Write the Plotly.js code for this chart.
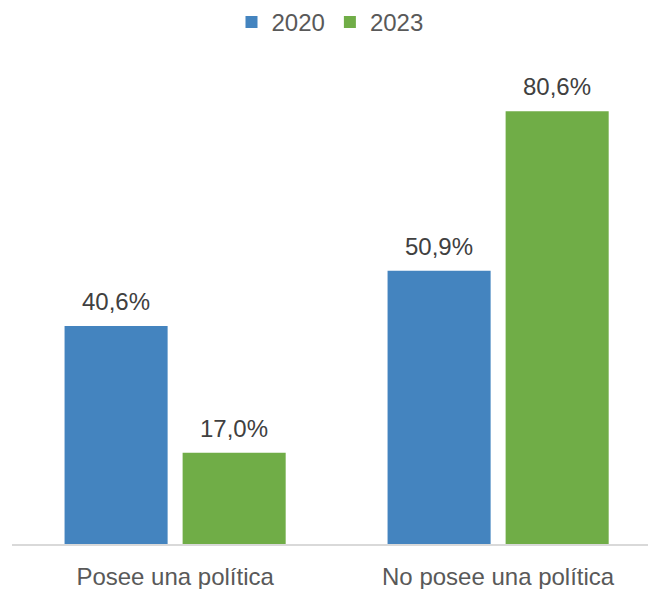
<!DOCTYPE html>
<html>
<head>
<meta charset="utf-8">
<script src="https://cdn.plot.ly/plotly-3.0.1.min.js"></script>
<style>html,body{margin:0;padding:0;background:#fff;}#chart{width:648px;height:589px;}</style>
</head>
<body>
<div id="chart"></div>
<script>
const categories = ["Posee una política", "No posee una política"];
const seriesNames = ["2020", "2023"];
const values2020 = [40.6, 50.9];
const values2023 = [17.0, 80.6];
const colors = ["#4484BF", "#70AD47"];

function fmt(v){ return v.toFixed(1).replace('.', ',') + '%'; }

const traces = [
  {type:'bar', name: seriesNames[0], x: categories, y: values2020, marker:{color: colors[0]}, hoverinfo:'none'},
  {type:'bar', name: seriesNames[1], x: categories, y: values2023, marker:{color: colors[1]}, hoverinfo:'none'}
];

const annotations = [];
[values2020, values2023].forEach((vals, s) => {
  vals.forEach((v, i) => {
    annotations.push({
      x: i + (s === 0 ? -0.182 : 0.182), y: v, xref:'x', yref:'y',
      text: fmt(v), showarrow:false, yanchor:'bottom', yshift: 9,
      font:{family:'Liberation Sans, Arial, sans-serif', size:24, color:'#404040'}
    });
  });
});

const layout = {
  width: 648, height: 589,
  margin: {l: 12, r: 0, t: 50, b: 45},
  paper_bgcolor: '#fff', plot_bgcolor: '#fff',
  font: {family: 'Liberation Sans, Arial, sans-serif', color: '#595959', size: 24},
  barmode: 'group', bargap: 0.269, bargroupgap: 0.127,
  showlegend: true,
  legend: {orientation:'h', x:0.5, xanchor:'center', y:1.0, yref:'container', yanchor:'top',
           font:{size:24, color:'#595959'}, itemwidth:30, traceorder:'normal'},
  xaxis: {type:'category', range:[-0.505, 1.464], showline:true, linecolor:'#D9D9D9', linewidth:1.5,
          ticks:'', ticklabelstandoff: 11, tickfont:{size:24, color:'#595959'}, showgrid:false, zeroline:false, fixedrange:true},
  yaxis: {range:[0, 92], visible:false, showgrid:false, zeroline:false, fixedrange:true},
  annotations: annotations
};

Plotly.newPlot('chart', traces, layout, {displayModeBar:false, staticPlot:true});
</script>
</body>
</html>
